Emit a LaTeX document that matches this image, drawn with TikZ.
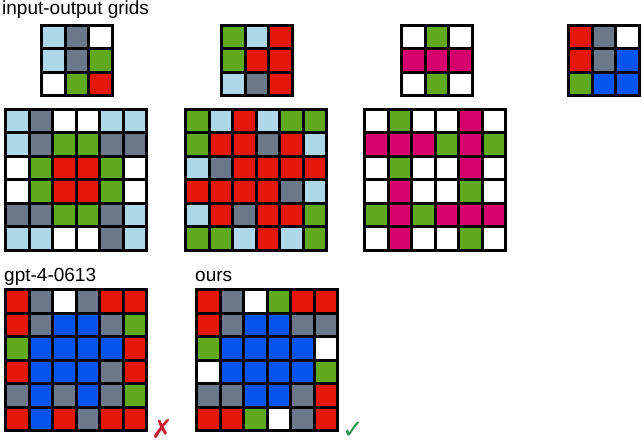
\documentclass[tikz,border=0pt]{standalone}
\usepackage{fontspec}
\setmainfont{Liberation Sans}
\newfontfamily\symfont{DejaVu Sans}
\definecolor{cl}{RGB}{173,216,234}
\definecolor{cs}{RGB}{106,120,138}
\definecolor{cw}{RGB}{255,255,255}
\definecolor{cg}{RGB}{96,168,28}
\definecolor{cr}{RGB}{228,22,6}
\definecolor{cm}{RGB}{216,2,110}
\definecolor{cb}{RGB}{6,84,240}
\definecolor{xred}{RGB}{200,30,50}
\definecolor{okgreen}{RGB}{40,150,80}
\tikzset{cell/.style={draw=black, line width=3pt},
  lbl/.style={anchor=base west, inner sep=0pt, font=\fontsize{19}{22}\selectfont}}
\newcommand\arcgrid[4]{%
  \foreach \col [count=\i from 0] in {#4} {
    \pgfmathtruncatemacro\cc{mod(\i,#3)}
    \pgfmathtruncatemacro\rr{div(\i,#3)}
    \filldraw[cell, fill=\col] ({#1+\cc*23.5},{#2+\rr*23.5}) rectangle +(23.5,23.5);
  }}
\begin{document}
\begin{tikzpicture}[x=1pt,y=-1pt]
\useasboundingbox (0,0) rectangle (644,443);
\node[lbl] (title) at (2,15) {input-output grids};
\node[lbl] (gpt) at (4,281) {gpt-4-0613};
\node[lbl] (ours) at (195,281) {ours};
% small grids
\arcgrid{41.5}{25.5}{3}{cl,cs,cw,cl,cs,cg,cw,cg,cr}
\arcgrid{221.5}{25.5}{3}{cg,cl,cr,cg,cr,cr,cl,cs,cr}
\arcgrid{401.5}{25.5}{3}{cw,cg,cw,cm,cm,cm,cw,cg,cw}
\arcgrid{568.5}{25.5}{3}{cr,cs,cw,cr,cs,cb,cg,cb,cb}
% big grids
\arcgrid{5.5}{109.5}{6}{cl,cs,cw,cw,cl,cl,
 cl,cs,cg,cg,cs,cs,
 cw,cg,cr,cr,cg,cw,
 cw,cg,cr,cr,cg,cw,
 cs,cs,cg,cg,cs,cl,
 cl,cl,cw,cw,cs,cl}
\arcgrid{185.5}{109.5}{6}{cg,cl,cr,cl,cg,cg,
 cg,cr,cr,cs,cr,cl,
 cl,cs,cr,cr,cr,cr,
 cr,cr,cr,cr,cs,cl,
 cl,cr,cs,cr,cr,cg,
 cg,cg,cl,cr,cl,cg}
\arcgrid{364.5}{109.5}{6}{cw,cg,cw,cw,cm,cw,
 cm,cm,cm,cg,cm,cg,
 cw,cg,cw,cw,cm,cw,
 cw,cm,cw,cw,cg,cw,
 cg,cm,cg,cm,cm,cm,
 cw,cm,cw,cw,cg,cw}
\arcgrid{5.5}{289.5}{6}{cr,cs,cw,cs,cr,cr,
 cr,cs,cb,cb,cs,cg,
 cg,cb,cb,cb,cb,cr,
 cr,cb,cb,cb,cs,cr,
 cs,cb,cs,cb,cs,cg,
 cr,cb,cr,cs,cr,cr}
\arcgrid{196.5}{289.5}{6}{cr,cs,cw,cg,cr,cr,
 cr,cs,cb,cb,cs,cs,
 cg,cb,cb,cb,cb,cw,
 cw,cb,cb,cb,cb,cg,
 cs,cs,cb,cb,cs,cr,
 cr,cr,cg,cw,cs,cr}
\node[anchor=base west, inner sep=0pt, text=xred, font=\symfont\fontsize{26}{28}\selectfont] (cross) at (151,438) {✗};
\node[anchor=base west, inner sep=0pt, text=okgreen, font=\symfont\fontsize{26}{28}\selectfont] (tick) at (342,438) {✓};
\end{tikzpicture}
\end{document}
